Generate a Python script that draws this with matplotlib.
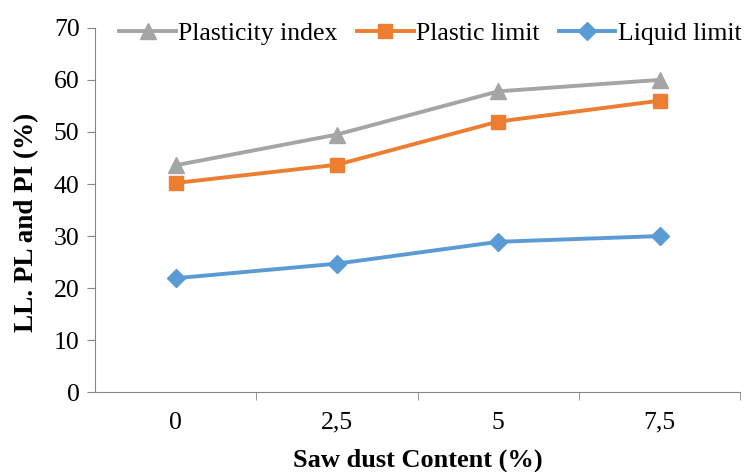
import matplotlib.pyplot as plt

# saw dust content (%) and Atterberg limits
content = ['0', '2,5', '5', '7,5']
plasticity_index = [43.6, 49.5, 57.8, 60.0]
plastic_limit = [40.2, 43.7, 52.0, 56.0]
liquid_limit = [21.9, 24.7, 28.9, 30.0]

plt.rcParams['font.family'] = 'Liberation Serif'

fig = plt.figure(figsize=(7.47, 4.72), dpi=100)
ax = fig.add_axes([0.127, 0.169, 0.864, 0.772])

x = range(len(content))
ax.plot(x, plasticity_index, color='#A5A5A5', lw=2.8, marker='^', ms=11, label='Plasticity index')
ax.plot(x, plastic_limit, color='#ED7D31', lw=2.8, marker='s', ms=10, label='Plastic limit')
ax.plot(x, liquid_limit, color='#5B9BD5', lw=2.8, marker='D', ms=9, label='Liquid limit')

ax.set_xlim(-0.5, 3.5)
ax.set_ylim(0, 70)
ax.set_yticks(range(0, 71, 10))
ax.set_xticks(list(x))
ax.set_xticklabels(content)
ax.set_xticks([0.5, 1.5, 2.5, 3.5], minor=True)
ax.tick_params(axis='x', which='major', length=0, pad=14, labelsize=18.5)
ax.tick_params(axis='x', which='minor', length=6, color='#868686')
ax.tick_params(axis='y', length=6, color='#868686', labelsize=18.5, pad=5)

for s in ['top', 'right']:
    ax.spines[s].set_visible(False)
for s in ['left', 'bottom']:
    ax.spines[s].set_color('#868686')

ax.set_xlabel('Saw dust Content (%)', fontsize=19, fontweight='bold', labelpad=11)
ax.set_ylabel('LL. PL and PI (%)', fontsize=19.5, fontweight='bold')
ax.yaxis.set_label_coords(-0.086, 0.465)

ax.legend(loc='center', bbox_to_anchor=(0.52, 0.985), ncol=3, frameon=False,
          fontsize=18.5, handlelength=2.2, handletextpad=0.1, columnspacing=0.75)

fig.savefig('out.png', dpi=100)
